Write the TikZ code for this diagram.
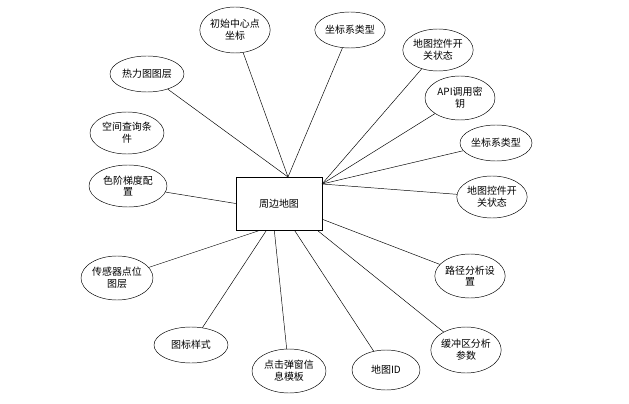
\documentclass[tikz,border=0pt]{standalone}
\usepackage{fontspec}
\newfontfamily\cjk{Noto Sans CJK SC}
\usetikzlibrary{shapes.geometric}

\tikzset{
	attr/.style={draw, ellipse, inner sep=0pt, align=center, font=\cjk\fontsize{8.5}{10}\selectfont},
	entity/.style={draw, rectangle, minimum width=2.58cm, minimum height=1.59cm, font=\cjk\fontsize{8.5}{10}\selectfont}
}

\begin{document}
\begin{tikzpicture}[x=0.03cm,y=-0.03cm]
	\useasboundingbox (0,0) rectangle (629,404);
	\node[entity] (map) at (279,203.5) {周边地图};
	
	\node[attr, minimum width=1.86cm, minimum height=1.38cm] (center) at (235,30) {初始中心点\\坐标};
	\node[attr, minimum width=2.1cm, minimum height=1.08cm] (crsa) at (350,30) {坐标系类型};
	\node[attr, minimum width=2.1cm, minimum height=1.26cm] (ctrla) at (438,50) {地图控件开\\关状态};
	\node[attr, minimum width=2.1cm, minimum height=1.32cm] (apikey) at (460,98) {API调用密\\钥};
	\node[attr, minimum width=2.16cm, minimum height=1.08cm] (crsb) at (496,143) {坐标系类型};
	\node[attr, minimum width=2.1cm, minimum height=1.26cm] (ctrlb) at (492,197) {地图控件开\\关状态};
	\node[attr, minimum width=2.1cm, minimum height=1.32cm] (route) at (470,276) {路径分析设\\置};
	\node[attr, minimum width=1.98cm, minimum height=1.38cm] (buffer) at (466,350) {缓冲区分析\\参数};
	\node[attr, minimum width=2.04cm, minimum height=1.2cm] (mapid) at (386,370) {地图ID};
	\node[attr, minimum width=2.22cm, minimum height=1.32cm] (popup) at (289,371) {点击弹窗信\\息模板};
	\node[attr, minimum width=2.22cm, minimum height=1.08cm] (icon) at (191,345) {图标样式};
	\node[attr, minimum width=2.16cm, minimum height=1.32cm] (sensor) at (117,278) {传感器点位\\图层};
	\node[attr, minimum width=2.34cm, minimum height=1.26cm] (ramp) at (128,186) {色阶梯度配\\置};
	\node[attr, minimum width=2.22cm, minimum height=1.26cm] (query) at (127,133) {空间查询条\\件};
	\node[attr, minimum width=2.22cm, minimum height=1.08cm] (heat) at (147,74) {热力图图层};
	
	% connectors
	\coordinate (top) at (288,177);
	\coordinate (right) at (322,184);
	\foreach \n in {center,crsa,heat} \draw (\n) -- (top);
	\foreach \n in {ctrla,apikey,crsb,ctrlb} \draw (\n) -- (right);
	\draw (route) -- (map.-20);
	\draw (buffer) -- (map.-35);
	\draw (mapid) -- (map.-60);
	\draw (popup) -- (map.-100);
	\draw (icon) -- (map.-115);
	\draw (sensor) -- (map.-125);
	\draw (ramp) -- (map.west);
\end{tikzpicture}
\end{document}
